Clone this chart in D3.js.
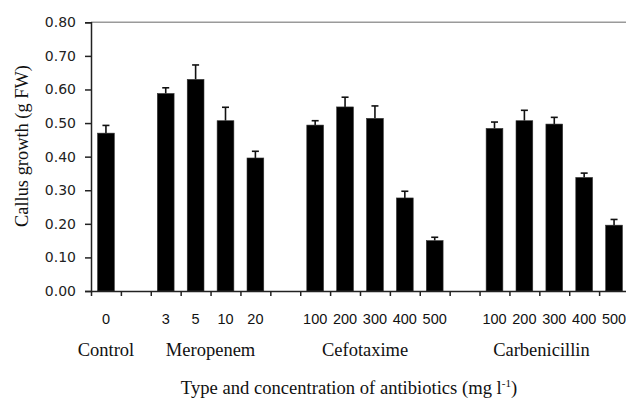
<!DOCTYPE html>
<html>
<head>
<meta charset="utf-8">
<script src="https://cdn.jsdelivr.net/npm/d3@7"></script>
<style>
  body { margin: 0; background: #fff; }
  svg { display: block; }
</style>
</head>
<body>
<div id="chart"></div>
<script>

// concentration labels under each slot ("" = gap between groups)
const tickLabels = ["0", "", "3", "5", "10", "20", "", "100", "200", "300", "400", "500", "", "100", "200", "300", "400", "500"];
// mean callus growth (g FW)
const means = [0.470, null, 0.588, 0.630, 0.507, 0.396, null, 0.494, 0.548, 0.514, 0.277, 0.150, null, 0.484, 0.507, 0.497, 0.338, 0.196];
// standard error (upper bar only)
const errors = [0.023, null, 0.017, 0.043, 0.040, 0.020, null, 0.013, 0.029, 0.037, 0.020, 0.010, null, 0.019, 0.031, 0.020, 0.013, 0.017];

const groups = ["Control", "Meropenem", "Cefotaxime", "Carbenicillin"];
// label centre, in slot units along the axis
const groupCentres = [0.5, 4.0, 9.17, 15.07];

const yTicks = [0, 0.1, 0.2, 0.3, 0.4, 0.5, 0.6, 0.7, 0.8];

const width = 626, height = 400;
const plotLeft = 91, plotRight = 629, plotTop = 22.3, plotBottom = 291;

const svg = d3.select("#chart")
    .append("svg")
    .attr("width", width)
    .attr("height", height);

const x = d3.scaleBand()
    .domain(d3.range(tickLabels.length))
    .range([plotLeft, plotRight])
    .paddingInner(0.44)
    .paddingOuter(0.22);

const slot = d3.scaleLinear()
    .domain([0, tickLabels.length])
    .range([plotLeft, plotRight]);

const y = d3.scaleLinear()
    .domain([0, 0.8])
    .range([plotBottom, plotTop]);

// grey line at the top of the plot area
svg.append("line")
    .attr("x1", plotLeft).attr("x2", width)
    .attr("y1", y(0.8)).attr("y2", y(0.8))
    .attr("stroke", "#9a9a9a")
    .attr("stroke-width", 1.5);

const data = means.map((m, i) => ({ i: i, m: m, e: errors[i] })).filter(d => d.m !== null);

// error bars
const err = svg.selectAll("g.err")
    .data(data)
    .enter().append("g")
    .attr("class", "err")
    .attr("stroke", "#111")
    .attr("stroke-width", 1.6);

err.append("line")
    .attr("x1", d => x(d.i) + x.bandwidth() / 2)
    .attr("x2", d => x(d.i) + x.bandwidth() / 2)
    .attr("y1", d => y(d.m))
    .attr("y2", d => y(d.m + d.e));

err.append("line")
    .attr("x1", d => x(d.i) + x.bandwidth() / 2 - 3.5)
    .attr("x2", d => x(d.i) + x.bandwidth() / 2 + 3.5)
    .attr("y1", d => y(d.m + d.e))
    .attr("y2", d => y(d.m + d.e));

// bars
svg.selectAll("rect.bar")
    .data(data)
    .enter().append("rect")
    .attr("class", "bar")
    .attr("x", d => x(d.i))
    .attr("width", x.bandwidth())
    .attr("y", d => y(d.m))
    .attr("height", d => y(0) - y(d.m))
    .attr("fill", "#000")
    .attr("stroke", "#333")
    .attr("stroke-width", 0.6);

// y axis
const yAxis = svg.append("g")
    .attr("transform", `translate(${plotLeft},0)`)
    .call(d3.axisLeft(y).tickValues(yTicks).tickFormat(d3.format(".2f")).tickSize(6).tickPadding(9));

yAxis.select(".domain").attr("stroke", "#222").attr("stroke-width", 1.5);
yAxis.selectAll(".tick line").attr("stroke", "#222").attr("stroke-width", 1.5);
yAxis.selectAll(".tick text")
    .attr("fill", "#222")
    .style("font-family", "'DejaVu Sans', Verdana, sans-serif")
    .style("font-size", "14px");

// x axis: ticks on the slot boundaries
const xAxis = svg.append("g")
    .attr("transform", `translate(0,${plotBottom})`)
    .call(d3.axisBottom(slot).tickValues(d3.range(tickLabels.length)).tickFormat("").tickSize(5).tickSizeOuter(0));

xAxis.select(".domain").attr("stroke", "#222").attr("stroke-width", 1.5);
xAxis.selectAll(".tick line").attr("stroke", "#222").attr("stroke-width", 1.5);

// concentration labels
svg.selectAll("text.conc")
    .data(tickLabels)
    .enter().append("text")
    .attr("class", "conc")
    .attr("x", (d, i) => x(i) + x.bandwidth() / 2)
    .attr("y", 324)
    .attr("text-anchor", "middle")
    .style("font-family", "'Liberation Sans', Arial, sans-serif")
    .style("font-size", "14.5px")
    .attr("fill", "#111")
    .text(d => d);

// antibiotic names
svg.selectAll("text.group")
    .data(groups)
    .enter().append("text")
    .attr("class", "group")
    .attr("x", (d, i) => slot(groupCentres[i]))
    .attr("y", 356)
    .attr("text-anchor", "middle")
    .style("font-family", "'Liberation Serif', 'Times New Roman', serif")
    .style("font-size", "18.5px")
    .attr("fill", "#111")
    .text(d => d);

// axis titles
const xTitle = svg.append("text")
    .attr("x", 349)
    .attr("y", 394)
    .attr("text-anchor", "middle")
    .style("font-family", "'Liberation Serif', 'Times New Roman', serif")
    .style("font-size", "18.6px")
    .attr("fill", "#111");
xTitle.append("tspan").text("Type and concentration of antibiotics (mg l");
xTitle.append("tspan").attr("dy", -7).style("font-size", "11px").text("-1");
xTitle.append("tspan").attr("dy", 7).text(")");

svg.append("text")
    .attr("transform", "translate(28,146) rotate(-90)")
    .attr("text-anchor", "middle")
    .style("font-family", "'Liberation Serif', 'Times New Roman', serif")
    .style("font-size", "18.4px")
    .attr("fill", "#111")
    .text("Callus growth (g FW)");

</script>
</body>
</html>
